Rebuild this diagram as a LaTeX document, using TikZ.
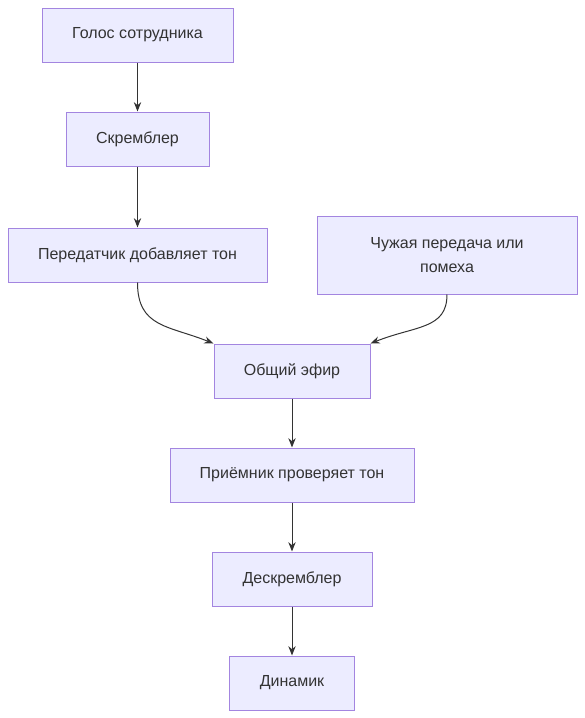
\documentclass[tikz,border=0pt]{standalone}
\usepackage{fontspec}
\setmainfont{Liberation Sans}
\usetikzlibrary{arrows.meta}
\definecolor{boxfill}{HTML}{ECECFF}
\definecolor{boxline}{HTML}{9370DB}
\definecolor{inkgray}{HTML}{333333}
\tikzstyle{stepbox} = [draw=boxline!85!white,fill=boxfill,line width=0.75pt,text=inkgray,font=\fontsize{12pt}{18pt}\selectfont,align=center,inner sep=0pt,minimum height=40.5pt]
\tikzstyle{flow} = [draw=inkgray,line width=0.75pt,-{Stealth[length=7pt,width=5.5pt]}]

\begin{document}
\begin{tikzpicture}[x=0.75pt,y=-0.75pt]
		\useasboundingbox (0,0) rectangle (585,718);
		\node[stepbox,minimum width=143.25pt] (n1) at (137.5,35) {Голос сотрудника};
		\node[stepbox,minimum width=107.25pt] (n2) at (137.5,139) {Скремблер};
		\node[stepbox,minimum width=194.25pt] (n3) at (137.5,255) {Передатчик добавляет тон};
		\node[stepbox,minimum width=195pt,minimum height=58.5pt] (n4) at (447,255) {Чужая передача или\\помеха};
		\node[stepbox,minimum width=117pt] (n5) at (292,371) {Общий эфир};
		\node[stepbox,minimum width=183pt] (n6) at (292,475) {Приёмник проверяет тон};
		\node[stepbox,minimum width=120pt] (n7) at (292,579) {Дескремблер};
		\node[stepbox,minimum width=93.75pt] (n8) at (292,683) {Динамик};
		\draw[flow] (n1) -- (n2);
		\draw[flow] (n2) -- (n3);
		\draw[flow] (n3.south) .. controls +(0,45) and +(-45,-18) .. (n5.north west);
		\draw[flow] (n4.south) .. controls +(0,35) and +(45,-18) .. (n5.north east);
		\draw[flow] (n5) -- (n6);
		\draw[flow] (n6) -- (n7);
		\draw[flow] (n7) -- (n8);
		\end{tikzpicture}
\end{document}
